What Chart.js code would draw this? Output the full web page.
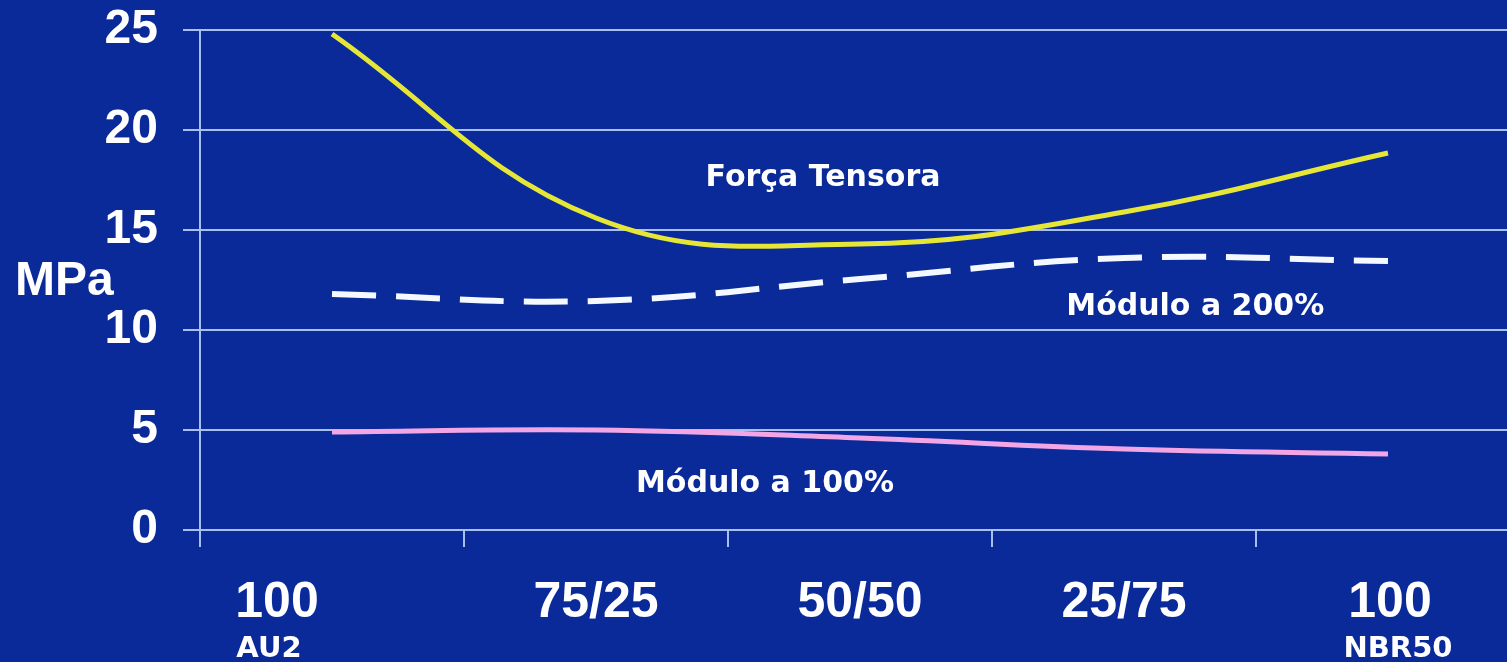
<!DOCTYPE html>
<html>
<head>
<meta charset="utf-8">
<title>MPa</title>
<script src="https://cdn.jsdelivr.net/npm/chart.js@4/dist/chart.umd.min.js"></script>
<style>
    html, body { margin: 0; padding: 0; background: #0a2a9a; overflow: hidden; }
    #wrap { width: 1530px; height: 662px; }
</style>
</head>
<body>
<div id="wrap"><canvas id="mpaChart"></canvas></div>
<script>
// blend ratios along the x axis, with the pure compound names under the ends
const blends = ['100', '75/25', '50/50', '25/75', '100'];
const blendNames = ['AU2', '', '', '', 'NBR50'];
const yTicks = [0, 5, 10, 15, 20, 25];

// MPa values per blend
const forcaTensora = [24.8, 15.6, 14.3, 15.9, 18.85];
const modulo200 = [11.8, 11.45, 12.55, 13.6, 13.45];
const modulo100 = [4.9, 5.0, 4.6, 4.05, 3.8];

const seriesNames = ['Força Tensora', 'Módulo a 200%', 'Módulo a 100%'];

const BG = '#0a2a9a';
const GRID = '#a9bff0';

const slidePlugin = {
    id: 'slide',
    beforeDraw(chart) {
        const ctx = chart.ctx;
        ctx.save();
        ctx.fillStyle = BG;
        ctx.fillRect(0, 0, chart.width, chart.height);
        ctx.restore();
    },
    afterDraw(chart) {
        const { ctx, chartArea, scales: { x, y } } = chart;
        ctx.save();
        ctx.fillStyle = '#ffffff';
        ctx.textBaseline = 'alphabetic';
        ctx.textAlign = 'center';

        // category labels (first one sits a bit left of its point)
        const mainShift = [-55, 0, 0, 0, 2];
        const subShift = [-63, 0, 0, 0, 10];
        blends.forEach((b, i) => {
            const cx = x.getPixelForValue(i);
            ctx.font = 'bold 50px "Liberation Sans", Arial, sans-serif';
            ctx.fillText(b, cx + mainShift[i], chartArea.bottom + 87);
            if (blendNames[i]) {
                ctx.font = 'bold 29px "DejaVu Sans", Verdana, sans-serif';
                ctx.fillText(blendNames[i], cx + subShift[i], chartArea.bottom + 127);
            }
        });

        // axis unit
        ctx.textAlign = 'left';
        ctx.textBaseline = 'middle';
        ctx.font = 'bold 48px "Liberation Sans", Arial, sans-serif';
        ctx.fillText('MPa', 15, y.getPixelForValue(12.4));

        // series names written next to their curves
        const spots = [[1.86, 17.2], [3.27, 10.75], [1.64, 1.9]];
        ctx.textAlign = 'center';
        ctx.textBaseline = 'alphabetic';
        ctx.font = 'bold 30px "DejaVu Sans", Verdana, sans-serif';
        seriesNames.forEach((name, i) => {
            ctx.fillText(name, x.getPixelForValue(spots[i][0]), y.getPixelForValue(spots[i][1]));
        });
        ctx.restore();
    }
};

new Chart(document.getElementById('mpaChart'), {
    type: 'line',
    data: {
        labels: blends,
        datasets: [
            {
                label: seriesNames[0],
                data: forcaTensora,
                borderColor: '#e6e636',
                borderWidth: 5,
                tension: 0.4,
                pointRadius: 0
            },
            {
                label: seriesNames[1],
                data: modulo200,
                borderColor: '#f4f8ff',
                borderWidth: 6,
                borderDash: [44, 20],
                tension: 0.4,
                pointRadius: 0
            },
            {
                label: seriesNames[2],
                data: modulo100,
                borderColor: '#f2a6e6',
                borderWidth: 5,
                tension: 0.4,
                pointRadius: 0
            }
        ]
    },
    options: {
        responsive: true,
        maintainAspectRatio: false,
        animation: false,
        layout: { padding: { top: 30, right: 10, left: 0, bottom: 0 } },
        plugins: {
            legend: { display: false },
            tooltip: { enabled: false }
        },
        scales: {
            x: {
                offset: true,
                grid: {
                    offset: true,
                    drawOnChartArea: false,
                    drawTicks: true,
                    tickLength: 17,
                    color: GRID,
                    lineWidth: 2
                },
                border: { display: true, color: GRID, width: 2 },
                ticks: { display: false },
                afterFit: s => { s.height = 132; s.paddingLeft = 0; s.paddingRight = 0; }
            },
            y: {
                min: 0,
                max: 25,
                afterBuildTicks: s => { s.ticks = yTicks.map(v => ({ value: v })); },
                grid: {
                    color: GRID,
                    lineWidth: 2,
                    tickLength: 17
                },
                border: { display: true, color: GRID, width: 2 },
                ticks: {
                    color: '#ffffff',
                    padding: 25,
                    font: { family: '"Liberation Sans", Arial, sans-serif', size: 48, weight: 'bold' }
                },
                afterFit: s => { s.width = 200; s.paddingTop = 0; s.paddingBottom = 0; }
            }
        }
    },
    plugins: [slidePlugin]
});
</script>
</body>
</html>
